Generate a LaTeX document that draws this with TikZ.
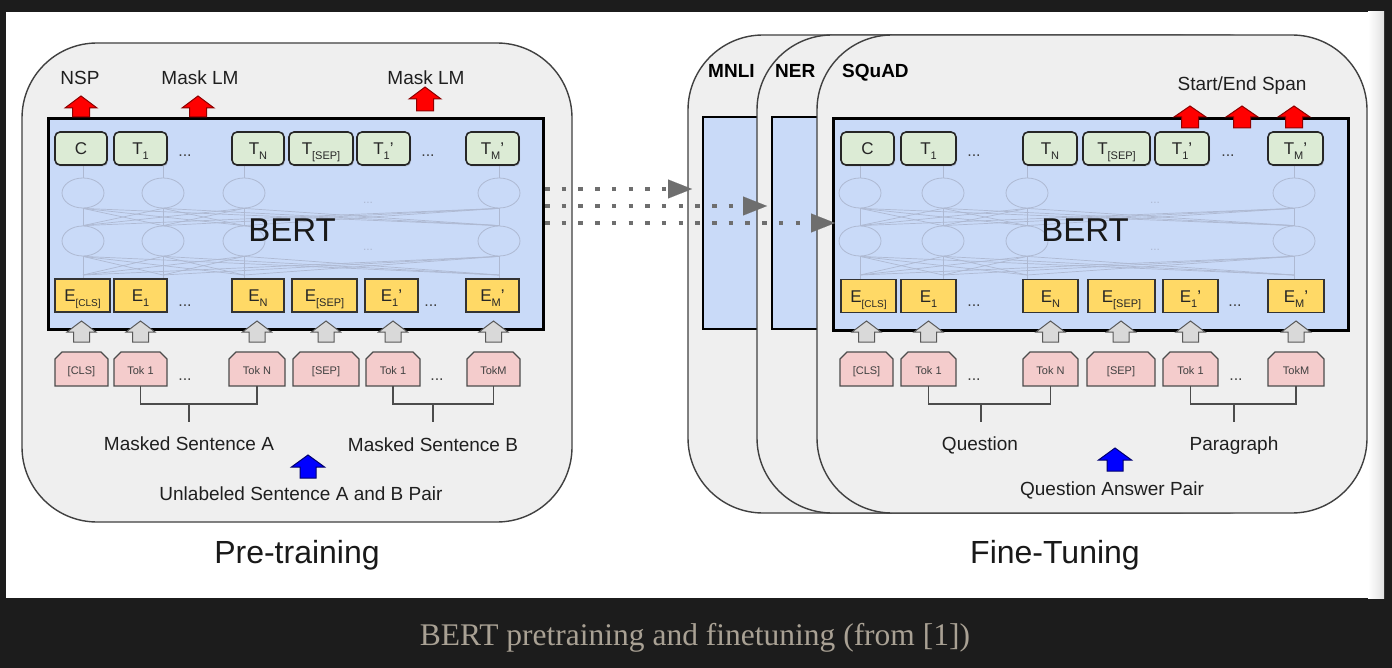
\documentclass[tikz,border=0pt]{standalone}
\usepackage{fontspec}
\setsansfont{Liberation Sans}
\newfontfamily\capfont{Liberation Serif}
\usetikzlibrary{arrows.meta,shapes.geometric,shadows}
\definecolor{darkbg}{HTML}{1C1C1C}
\definecolor{capcol}{HTML}{A9A194}
\definecolor{panelfill}{HTML}{EFEFEF}
\definecolor{panelline}{HTML}{404040}
\definecolor{bertblue}{HTML}{C9DAF8}
\definecolor{tgreen}{HTML}{DCEBD5}
\definecolor{eyellow}{HTML}{FFD966}
\definecolor{tokpink}{HTML}{F4CCCC}
\definecolor{arrgray}{HTML}{D9D9D9}
\definecolor{netline}{HTML}{AEB9D2}
\definecolor{dotgray}{HTML}{6E6E6E}
\definecolor{arrred}{HTML}{FF0000}
\definecolor{arrredd}{HTML}{8E0000}
\definecolor{arrblue}{HTML}{0000FF}
\definecolor{arrblued}{HTML}{00006E}
\newcommand\fs[1]{\fontsize{#1}{#1}\selectfont}
\newcommand\sbs[2][11]{\raisebox{-5pt}{\fs{#1}#2}}
\newcommand\blockup[7]{\filldraw[#1] (#2,#3) -- ({#2+#6},#4) -- ({#2+#7},#4) -- ({#2+#7},#5) -- ({#2-#7},#5) -- ({#2-#7},#4) -- ({#2-#6},#4) -- cycle;}
\begin{document}
\begin{tikzpicture}[x=1pt,y=-1pt,
  panel/.style={draw=panelline,line width=1.4pt,fill=panelfill,rounded corners=75pt},
  bertbox/.style={draw=black,line width=2.6pt,fill=bertblue,inner sep=0pt,anchor=north west},
  minibox/.style={fill=bertblue,draw=black,line width=2.6pt},
  tbox/.style={draw=black!85,line width=1.6pt,fill=tgreen,rounded corners=5pt,inner sep=0pt,minimum height=33pt,text height=12.2pt,text depth=0pt,font=\sffamily\fs{17},text=black!85,drop shadow={shadow xshift=1pt,shadow yshift=-1.5pt,opacity=0.3}},
  ebox/.style={draw=black!80,line width=1.3pt,fill=eyellow,inner sep=0pt,minimum height=33pt,text height=12.2pt,text depth=0pt,font=\sffamily\fs{17},text=black!85},
  tokshape/.style={draw=black!70,line width=1.2pt,fill=tokpink},
  toktext/.style={inner sep=0pt,minimum height=34pt,text height=12pt,text depth=2pt,font=\sffamily\fs{11},text=black!75},
  dotsl/.style={font=\sffamily\fs{16},text=black!75,anchor=base,inner sep=0pt},
  faint/.style={font=\sffamily\fs{12},text=netline,anchor=base,inner sep=0pt},
  trm/.style={ellipse,draw=netline,line width=0.8pt,minimum width=42pt,minimum height=30pt,inner sep=0pt},
  net/.style={draw=netline,line width=0.7pt},
  bracket/.style={draw=black!70,line width=1.3pt},
  lbl/.style={font=\sffamily\fs{19},text=black!88,inner sep=0pt,anchor=base},
  ttl/.style={font=\sffamily\fs{32},text=black!90,inner sep=0pt,anchor=base},
  bert/.style={font=\sffamily\fs{33},text=black!90,inner sep=0pt,anchor=base},
  task/.style={font=\sffamily\bfseries\fs{19},text=black,inner sep=0pt,anchor=base west},
  redarr/.style={fill=arrred,draw=arrredd,line width=1pt},
  grayarr/.style={fill=arrgray,draw=black!65,line width=1pt},
  bluearr/.style={fill=arrblue,draw=arrblued,line width=1pt},
  dotarr/.style={draw=dotgray,line width=4.5pt,dash pattern=on 4.5pt off 12.2pt,-{Triangle[length=24pt,width=19pt,line width=0.01pt,fill=dotgray]}},
]
\useasboundingbox (0,0) rectangle (1392,668);
\fill[darkbg] (0,0) rectangle (1392,668);
\fill[white] (6,12) rectangle (1384,598);
\shade[left color=white,right color=black!12] (1368,12) rectangle (1384,598);

% ================= PRE-TRAINING =================
\draw[panel] (22,43) rectangle (572,522);
\node[bertbox,minimum width=495pt,minimum height=211pt] (bertA) at (47,117) {};

% faint transformer network
\foreach \i/\x in {1/83,2/163,3/244,4/499}{
  \node[trm] (La\i) at (\x,193) {};
  \node[trm] (Lb\i) at (\x,241) {};
  \coordinate (Lc\i) at (\x,275);
  \coordinate (Lt\i) at (\x,165);
  \coordinate (Le\i) at (\x,279);
}
\foreach \i in {1,...,4}{
  \draw[net] (La\i.north) -- (Lt\i);
  \draw[net] (Lc\i) -- (Le\i);
  \foreach \j in {1,...,4}{
    \draw[net] (La\i.south) -- (Lb\j.north);
    \draw[net] (Lb\i.south) -- (Lc\j);
  }
}
\node[faint] (Lf1) at (368,204) {...};
\node[faint] (Lf2) at (368,251) {...};
\node[bert] (bertAtxt) at (292,242) {BERT};

% T row
\foreach \n/\x/\w/\t in {LTC/81/52/C, LT1/140.5/53/{T\sbs{1}}, LTN/258/52/{T\sbs{N}}, LTS/321/64/{T\sbs{[SEP]}}, LTP/383.5/53/{T\sbs{1}'}, LTM/492.5/53/{T\sbs{M}'}}{
  \node[tbox,minimum width=\w pt] (\n) at (\x,148.5) {\t};
}
\node[dotsl] (Ld1) at (185,157) {...};
\node[dotsl] (Ld2) at (428,157) {...};

% E row
\foreach \n/\x/\w/\t in {LEC/82.5/55/{E\sbs[10]{[CLS]}}, LE1/140.5/53/{E\sbs{1}}, LEN/258/52/{E\sbs{N}}, LES/324.5/65/{E\sbs{[SEP]}}, LEP/391.5/53/{E\sbs{1}'}, LEM/492.5/53/{E\sbs{M}'}}{
  \node[ebox,minimum width=\w pt] (\n) at (\x,295.5) {\t};
}
\node[dotsl] (Ld3) at (185,306) {...};
\node[dotsl] (Ld4) at (431,306) {...};

% tokens
\foreach \n/\a/\b/\t in {LKC/55/108/{[CLS]}, LK1/114/167/{Tok 1}, LKN/229/285/{Tok N}, LKS/293/359/{[SEP]}, LKP/366/420/{Tok 1}, LKM/467/520/{TokM}}{
  \filldraw[tokshape] (\a,386) -- (\a,359) -- ({\a+7},352) -- ({\b-7},352) -- (\b,359) -- (\b,386) -- cycle;
  \pgfmathsetmacro\cx{(\a+\b)/2}
  \node[toktext] (\n) at (\cx,369) {\t};
}
\node[dotsl] (Ld5) at (185,380) {...};
\node[dotsl] (Ld6) at (437,380) {...};

% grey input arrows
\foreach \x in {81.5,140.5,257,326,393,493.5}{
  \blockup{grayarr}{\x}{321}{332}{342}{14.5}{8}
}

% brackets
\coordinate (LqA) at (189,404); \coordinate (LqA2) at (189,422);
\coordinate (LqB) at (433,404); \coordinate (LqB2) at (433,422);
\draw[bracket] (LK1.south) |- (LqA) -| (LKN.south);
\draw[bracket] (LqA) -- (LqA2);
\draw[bracket] (LKP.south) |- (LqB) -| (LKM.south);
\draw[bracket] (LqB) -- (LqB2);

\node[lbl] (msA) at (189,450) {Masked Sentence A};
\node[lbl] (msB) at (433,451) {Masked Sentence B};
\blockup{bluearr}{308}{455}{467}{478}{16.5}{8}
\node[lbl] (unl) at (301,500) {Unlabeled Sentence A and B Pair};
\node[ttl] (pre) at (297,563) {Pre-training};

% outputs
\node[lbl] (nsp) at (80,85) {NSP};
\node[lbl] (mlm1) at (200,85) {Mask LM};
\node[lbl] (mlm2) at (426,85) {Mask LM};
\blockup{redarr}{81}{96}{108}{117}{16}{8.5}
\blockup{redarr}{198}{96}{108}{117}{16}{8.5}
\blockup{redarr}{425}{87}{99}{111}{16}{8.5}

% ================= FINE-TUNING =================
\draw[panel] (688,35) rectangle (1250,513);
\draw[minibox] (703,117) rectangle (800,329);
\draw[panel] (757,35) rectangle (1300,513);
\draw[minibox] (772,117) rectangle (900,329);
\draw[panel] (817,35) rectangle (1367,513);
\node[bertbox,minimum width=515pt,minimum height=212pt] (bertB) at (832,117) {};
\node[task] (mnli) at (708,78) {MNLI};
\node[task] (ner) at (775,78) {NER};
\node[task] (squad) at (842,78) {SQuAD};

\foreach \i/\x in {1/860,2/943,3/1027,4/1294}{
  \node[trm] (Ra\i) at (\x,193) {};
  \node[trm] (Rb\i) at (\x,241) {};
  \coordinate (Rc\i) at (\x,275);
  \coordinate (Rt\i) at (\x,165);
  \coordinate (Re\i) at (\x,279);
}
\foreach \i in {1,...,4}{
  \draw[net] (Ra\i.north) -- (Rt\i);
  \draw[net] (Rc\i) -- (Re\i);
  \foreach \j in {1,...,4}{
    \draw[net] (Ra\i.south) -- (Rb\j.north);
    \draw[net] (Rb\i.south) -- (Rc\j);
  }
}
\node[faint] (Rf1) at (1155,204) {...};
\node[faint] (Rf2) at (1155,251) {...};
\node[bert] (bertBtxt) at (1085,242) {BERT};

\foreach \n/\x/\w/\t in {RTC/867.5/53/C, RT1/928.5/55/{T\sbs{1}}, RTN/1050/54/{T\sbs{N}}, RTS/1116.5/67/{T\sbs{[SEP]}}, RTP/1182/54/{T\sbs{1}'}, RTM/1295.5/55/{T\sbs{M}'}}{
  \node[tbox,minimum width=\w pt] (\n) at (\x,148.5) {\t};
}
\node[dotsl] (Rd1) at (974,157) {...};
\node[dotsl] (Rd2) at (1228,157) {...};

\foreach \n/\x/\w/\t in {REC/868.5/55/{E\sbs[10]{[CLS]}}, RE1/928.5/55/{E\sbs{1}}, REN/1050.5/55/{E\sbs{N}}, RES/1121.5/67/{E\sbs{[SEP]}}, REP/1190.5/55/{E\sbs{1}'}, REM/1296/56/{E\sbs{M}'}}{
  \node[ebox,minimum width=\w pt] (\n) at (\x,296) {\t};
}
\node[dotsl] (Rd3) at (974,306) {...};
\node[dotsl] (Rd4) at (1235,306) {...};

\foreach \n/\a/\b/\t in {RKC/840/893/{[CLS]}, RK1/901/956/{Tok 1}, RKN/1023/1078/{Tok N}, RKS/1087/1155/{[SEP]}, RKP/1163/1218/{Tok 1}, RKM/1268/1324/{TokM}}{
  \filldraw[tokshape] (\a,386) -- (\a,359) -- ({\a+7},352) -- ({\b-7},352) -- (\b,359) -- (\b,386) -- cycle;
  \pgfmathsetmacro\cx{(\a+\b)/2}
  \node[toktext] (\n) at (\cx,369) {\t};
}
\node[dotsl] (Rd5) at (974,380) {...};
\node[dotsl] (Rd6) at (1236,380) {...};

\foreach \x in {866.5,928.5,1050.5,1121,1190.5,1296}{
  \blockup{grayarr}{\x}{321}{332}{342}{14.5}{8}
}

\coordinate (RqA) at (981,404); \coordinate (RqA2) at (981,422);
\coordinate (RqB) at (1234,404); \coordinate (RqB2) at (1234,422);
\draw[bracket] (RK1.south) |- (RqA) -| (RKN.south);
\draw[bracket] (RqA) -- (RqA2);
\draw[bracket] (RKP.south) |- (RqB) -| (RKM.south);
\draw[bracket] (RqB) -- (RqB2);

\node[lbl] (qst) at (980,450) {Question};
\node[lbl] (par) at (1234,450) {Paragraph};
\blockup{bluearr}{1115}{448}{460}{471}{16.5}{8}
\node[lbl] (qap) at (1112,495) {Question Answer Pair};
\node[ttl] (fine) at (1055,563) {Fine-Tuning};

\node[lbl] (span) at (1242,91) {Start/End Span};
\blockup{redarr}{1190}{106}{117}{128}{16}{8.5}
\blockup{redarr}{1242}{106}{117}{128}{16}{8.5}
\blockup{redarr}{1294}{106}{117}{128}{16}{8.5}

% dotted transfer arrows
\coordinate (ds1) at (545,189); \coordinate (de1) at (692,189);
\coordinate (ds2) at (545,206); \coordinate (de2) at (767,206);
\coordinate (ds3) at (545,223); \coordinate (de3) at (835,223);
\draw[dotarr] (ds1) -- (de1);
\draw[dotarr] (ds2) -- (de2);
\draw[dotarr] (ds3) -- (de3);

% caption
\node[font=\capfont\fs{31.5},text=capcol,anchor=base,inner sep=0pt] (cap) at (695,645) {BERT pretraining and finetuning (from [1])};
\end{tikzpicture}
\end{document}
